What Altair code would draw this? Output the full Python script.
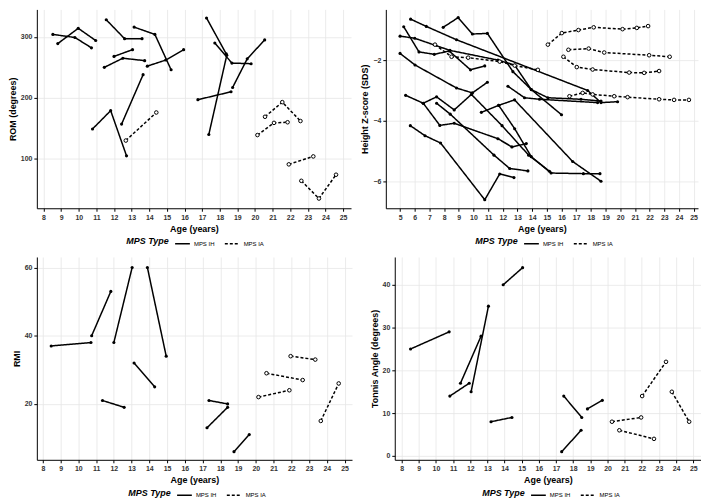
import altair as alt
import pandas as pd

# ---------------- ROM (degrees) ----------------
ROM_IH_AGES = [
    [8.53, 9.78, 10.72], [8.81, 9.97, 10.96], [11.56, 12.6, 13.59], [13.14, 14.32, 15.24],
    [12.0, 13.05], [11.45, 12.5, 13.74], [13.89, 14.94, 15.95], [10.78, 11.81, 12.71],
    [12.43, 13.65], [17.25, 18.37], [17.38, 18.4], [17.72, 18.69, 19.78],
    [16.76, 18.64], [18.73, 19.56, 20.55],
]
ROM_IH_VALUES = [
    [304, 299, 282], [289, 314, 294], [328, 297, 297], [316, 304, 246],
    [268, 279], [250, 265, 261], [252, 262, 279], [149, 179, 105],
    [157, 238], [331, 272], [140, 270], [290, 257, 256],
    [197, 210], [217, 264, 295],
]
ROM_IA_AGES = [[12.67, 14.4], [20.14, 21.08, 21.85], [20.57, 21.55, 22.58], [21.92, 23.31], [22.63, 23.63, 24.6]]
ROM_IA_VALUES = [[130, 176], [139, 159, 160], [169, 193, 162], [91, 104], [64, 35, 74]]

# ---------------- Height Z-score (SDS) ----------------
HT_IH_AGES = [
    [5.72, 6.79, 8.85, 17.78, 18.69, 19.82],
    [5.25, 6.29, 7.33, 8.35, 9.8, 10.77],
    [5.0, 6.0, 8.4, 11.67, 12.8, 13.94, 15.07, 17.33, 18.69],
    [7.94, 8.96, 9.93, 10.95, 12.69, 13.94, 16.0],
    [5.0, 6.02, 8.85, 9.93, 10.95],
    [5.38, 6.58, 7.71, 8.69, 11.67, 12.62, 13.6],
    [6.58, 7.49, 8.69, 9.86, 11.95, 13.76, 15.18],
    [7.49, 8.42, 11.4, 12.47, 13.71],
    [10.54, 11.72, 12.8, 16.76, 18.69],
    [11.72, 12.81, 13.94, 15.29, 17.49, 18.62],
    [12.35, 13.48, 14.5, 18.46],
    [5.7, 6.7, 7.76, 10.77, 11.79, 12.76],
]
HT_IH_VALUES = [
    [-0.65, -0.89, -1.33, -3.0, -3.4, -3.37],
    [-0.9, -1.73, -1.81, -1.7, -2.32, -2.19],
    [-1.21, -1.28, -1.68, -2.0, -2.16, -2.97, -3.24, -3.29, -3.35],
    [-0.92, -0.6, -1.14, -1.12, -2.38, -2.97, -3.8],
    [-1.78, -2.16, -2.92, -3.08, -2.73],
    [-3.16, -3.42, -4.15, -4.08, -4.59, -4.86, -4.75],
    [-3.42, -3.21, -3.64, -3.13, -4.16, -5.13, -5.66],
    [-3.42, -3.78, -5.13, -5.57, -5.65],
    [-3.72, -3.49, -3.31, -5.34, -5.99],
    [-3.49, -4.26, -5.18, -5.72, -5.74, -5.74],
    [-2.86, -3.24, -3.29, -3.4],
    [-4.16, -4.49, -4.73, -6.6, -5.75, -5.87],
]
HT_IA_AGES = [
    [7.38, 8.51, 9.64, 11.79, 12.81, 14.39],
    [15.07, 16.02, 17.15, 18.19, 20.16, 21.13, 21.9],
    [16.47, 17.85, 18.91, 21.97, 23.37],
    [16.13, 17.04, 18.12, 20.61, 21.63, 22.65],
    [16.54, 17.44, 18.12, 19.59, 20.5, 22.65, 23.67, 24.68],
]
HT_IA_VALUES = [
    [-1.49, -1.89, -1.92, -2.05, -2.18, -2.32],
    [-1.49, -1.11, -1.01, -0.92, -0.98, -0.94, -0.88],
    [-1.66, -1.62, -1.75, -1.84, -1.89],
    [-1.89, -2.23, -2.31, -2.41, -2.42, -2.36],
    [-3.19, -3.08, -3.13, -3.19, -3.22, -3.29, -3.31, -3.31],
]

# ---------------- RMI ----------------
RMI_IH_AGES = [[8.47, 10.71], [10.75, 11.83], [12.0, 13.03], [13.89, 14.95], [13.14, 14.3],
               [11.36, 12.58], [17.36, 18.41], [17.25, 18.41], [18.77, 19.63]]
RMI_IH_VALUES = [[37, 38], [40, 53], [38, 60], [60, 34], [32, 25], [21, 19], [21, 20], [13, 19], [6, 11]]
RMI_IA_AGES = [[20.15, 21.89], [20.6, 22.64], [21.96, 23.35], [23.66, 24.67]]
RMI_IA_VALUES = [[22, 24], [29, 27], [34, 33], [15, 26]]

# ---------------- Tonnis angle ----------------
TON_IH_AGES = [[8.52, 10.77], [10.81, 11.94], [11.43, 12.63], [12.05, 13.06], [13.92, 15.05],
               [13.21, 14.43], [17.45, 18.5], [17.33, 18.46], [18.83, 19.7]]
TON_IH_VALUES = [[25, 29], [14, 17], [17, 28], [15, 35], [40, 44], [8, 9], [14, 9], [1, 6], [11, 13]]
TON_IA_AGES = [[20.26, 21.96], [20.69, 22.71], [22.02, 23.41], [23.75, 24.76]]
TON_IA_VALUES = [[8, 9], [6, 4], [14, 22], [15, 8]]

TYPES = ["MPS IH", "MPS IA"]
FONT = "Liberation Sans"


def build_df(ih_a, ih_v, ia_a, ia_v):
    rows = []
    pid = 0
    for typ, A, V in [("MPS IH", ih_a, ih_v), ("MPS IA", ia_a, ia_v)]:
        for ages, vals in zip(A, V):
            for a, v in zip(ages, vals):
                rows.append({"pid": pid, "age": a, "value": v, "type": typ})
            pid += 1
    return pd.DataFrame(rows)


def panel(df, xdom, xticks, ydom, yticks, ytitle, w, h, legx):
    x = alt.X("age:Q", scale=alt.Scale(domain=xdom, nice=False, zero=False),
              axis=alt.Axis(values=xticks, title="Age (years)"))
    y = alt.Y("value:Q", scale=alt.Scale(domain=ydom, nice=False, zero=False),
              axis=alt.Axis(values=yticks, title=ytitle))
    lines = alt.Chart(df).mark_line(color="black", strokeWidth=1.5).encode(
        x=x, y=y, detail="pid:N", order="age:Q",
        strokeDash=alt.StrokeDash(
            "type:N",
            scale=alt.Scale(domain=TYPES, range=[[1, 0], [3, 2]]),
            legend=alt.Legend(
                title="MPS Type", orient="none", direction="horizontal",
                legendX=legx, legendY=h + 27, titleOrient="left",
                titleFontStyle="italic", titleFontWeight="bold", titleFontSize=9,
                titleFont=FONT, titleColor="black", labelFont=FONT, labelFontSize=6,
                labelColor="black", symbolType="stroke", symbolStrokeColor="black",
                symbolStrokeWidth=1.6, symbolSize=220, columnPadding=6, labelOffset=3,
            ),
        ),
    )
    pts_ih = alt.Chart(df).transform_filter(alt.datum.type == "MPS IH").mark_point(
        filled=True, color="black", size=10, opacity=1).encode(x=x, y=y)
    pts_ia = alt.Chart(df).transform_filter(alt.datum.type == "MPS IA").mark_point(
        filled=False, color="black", fill="white", fillOpacity=1, size=13, strokeWidth=1,
        opacity=1).encode(x=x, y=y)
    return alt.layer(lines, pts_ih, pts_ia).properties(width=w, height=h)


rom = build_df(ROM_IH_AGES, ROM_IH_VALUES, ROM_IA_AGES, ROM_IA_VALUES)
ht = build_df(HT_IH_AGES, HT_IH_VALUES, HT_IA_AGES, HT_IA_VALUES)
rmi = build_df(RMI_IH_AGES, RMI_IH_VALUES, RMI_IA_AGES, RMI_IA_VALUES)
ton = build_df(TON_IH_AGES, TON_IH_VALUES, TON_IA_AGES, TON_IA_VALUES)

H1, H2 = 200, 204
p1 = panel(rom, [7.62, 25.45], list(range(8, 26)), [19, 345], [100, 200, 300], "ROM (degrees)", 316, H1, 90)
p2 = panel(ht, [4.03, 25.3], list(range(5, 26)), [-6.88, -0.33], [-6, -4, -2], "Height Z-score (SDS)", 314, H1, 90)
p3 = panel(rmi, [7.66, 25.42], list(range(8, 26)), [3.6, 63.1], [20, 40, 60], "RMI", 317, H2, 92)
p4 = panel(ton, [7.6, 25.45], list(range(8, 26)), [-0.9, 46.5], [0, 10, 20, 30, 40], "Tonnis Angle (degrees)", 308, H2, 88)

row1 = alt.hconcat(p1, p2, spacing=10).resolve_legend(strokeDash="independent").resolve_scale(strokeDash="independent")
row2 = alt.hconcat(p3, p4, spacing=18).resolve_legend(strokeDash="independent").resolve_scale(strokeDash="independent")

chart = alt.vconcat(row1, row2, spacing=10).resolve_legend(
    strokeDash="independent"
).resolve_scale(strokeDash="independent").properties(
    padding={"left": 0, "top": 0, "right": 0, "bottom": 0}
).configure_view(
    stroke=None
).configure_axis(
    domainColor="black", domainWidth=1, tickColor="black", tickSize=3, tickWidth=1,
    gridColor="#e6e6e6", gridWidth=0.8, labelFont=FONT, labelFontSize=7,
    labelFontWeight="bold", labelColor="#333333", labelPadding=2,
    titleFont=FONT, titleFontSize=9, titleFontWeight="bold", titleColor="black",
    titlePadding=4,
).configure_axisY(labelPadding=2, titlePadding=3)

chart.save("out.html", embed_options={"renderer": "svg", "actions": False})
